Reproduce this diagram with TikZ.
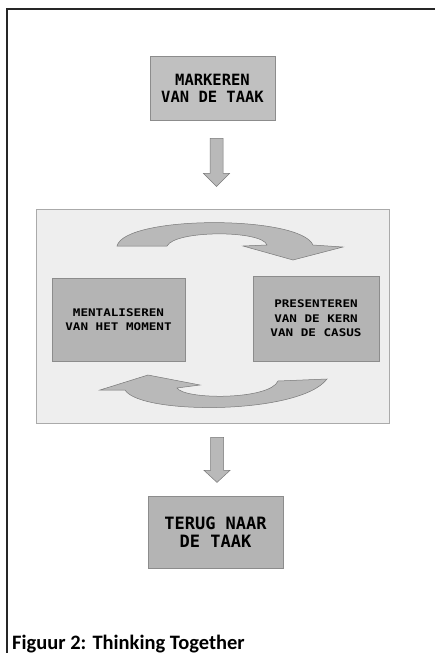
\documentclass[tikz,border=0pt]{standalone}
\usepackage{fontspec}
\usetikzlibrary{calc}
\newfontfamily\boxfont{DejaVu Sans Mono}
\newfontfamily\innerfont{DejaVu Sans Mono}[FakeStretch=1.2]
\newfontfamily\capfont{Carlito}
\definecolor{panelfill}{RGB}{238,238,238}
\definecolor{paneldraw}{RGB}{170,170,170}
\definecolor{boxfill}{RGB}{192,192,192}
\definecolor{innerfill}{RGB}{180,180,180}
\definecolor{boxdraw}{RGB}{140,140,140}
\definecolor{arrowfill}{RGB}{185,185,185}
\definecolor{arrowdraw}{RGB}{120,120,120}
\tikzset{
  mainbox/.style={draw=boxdraw, fill=boxfill, line width=0.8pt, inner sep=0pt, align=center,
    font=\boxfont\bfseries, text=black},
  innerbox/.style={draw=boxdraw, fill=innerfill, line width=0.8pt, inner sep=0pt, align=center,
    font=\innerfont\bfseries\fontsize{10.5}{14.6}\selectfont, text=black},
  panel/.style={draw=paneldraw, fill=panelfill, line width=0.8pt, inner sep=0pt},
  blockarrow/.style={fill=arrowfill, draw=arrowdraw, line width=0.5pt, line join=miter},
}
\begin{document}
\begin{tikzpicture}[x=1pt,y=-1pt]
\useasboundingbox (0,0) rectangle (435,653);
% frame
\draw[line width=1.2pt, black!85] (435,9) -- (7,9) -- (7,653);
% nodes
\node[mainbox, minimum width=125pt, minimum height=64pt, font=\boxfont\bfseries\fontsize{15.5}{17}\selectfont] (top) at (212.5,88) {MARKEREN\\VAN DE TAAK};
\node[panel, minimum width=353pt, minimum height=214pt] (panel) at (212.5,316) {};
\node[innerbox, minimum width=133pt, minimum height=83pt] (left) at (118.5,319.5) {MENTALISEREN\\VAN HET MOMENT};
\node[innerbox, minimum width=126pt, minimum height=85pt] (right) at (316,318.5) {PRESENTEREN\\VAN DE KERN\\VAN DE CASUS};
\node[mainbox, minimum width=135pt, minimum height=72pt, fill=innerfill, font=\boxfont\bfseries\fontsize{17}{18}\selectfont] (bottom) at (215.5,532) {TERUG NAAR\\DE TAAK};
% down arrows (connectors between nodes)
\coordinate (a1) at ($(top.south)+(4,18)$);
\draw[blockarrow] (a1) ++(-6.5,0) -- ++(13,0) -- ++(0,35) -- ++(6.5,0) -- ++(-13,13) -- ++(-13,-13) -- ++(6.5,0) -- cycle;
\coordinate (a2) at ($(panel.south)+(4.5,14)$);
\draw[blockarrow] (a2) ++(-6.5,0) -- ++(13,0) -- ++(0,33) -- ++(6.5,0) -- ++(-13,12) -- ++(-13,-12) -- ++(6.5,0) -- cycle;
% curved arrows in the panel
\draw[blockarrow] (117,246) .. controls (125,215) and (300,215) .. (313,245)
  -- (343,247) -- (293,260) -- (243,246) -- (267,245)
  .. controls (262,230) and (175,230) .. (167,246) -- cycle;
\draw[blockarrow] (327,379) .. controls (300,415) and (140,415) .. (125,390)
  -- (100,390) -- (148,375) -- (200,385) -- (177,388)
  .. controls (185,400) and (270,400) .. (278,381) -- cycle;
% caption
\node[anchor=base west, inner sep=0pt, font=\capfont\bfseries\fontsize{20.5}{24}\selectfont] (caption) at (12,649) {Figuur 2: Thinking Together};
\end{tikzpicture}
\end{document}
